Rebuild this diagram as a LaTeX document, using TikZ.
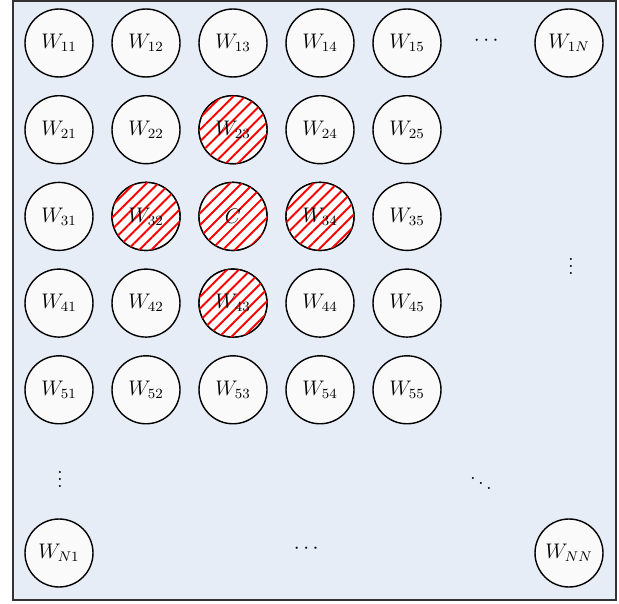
\documentclass[tikz,border=0pt]{standalone}
\usepackage{amsmath}
\usepackage{tikz}
\usepackage{xcolor}
\usetikzlibrary{patterns.meta, calc}
\definecolor{cBack}{RGB}{230,237,246}
\definecolor{cCell}{RGB}{250,250,250}
\tikzset{
	cell/.style    ={circle, draw=black, line width=0.8pt, fill=cCell, minimum size=1.36cm, inner sep=0pt, font=\large},
	hatched/.style ={cell, fill=white, postaction={pattern={Lines[angle=45, distance=4.8pt, line width=1.1pt]}, pattern color=red}},
	dots/.style    ={font=\large, inner sep=0pt},
}

\begin{document}
\begin{tikzpicture}[x=0.02cm, y=-0.02cm]
	\useasboundingbox (0,0) rectangle (619,604);
	% background panel
	\filldraw[fill=cBack, draw=black!80, line width=0.8pt] (13,1) rectangle (616,600);
	% 5x5 block of weights
	\foreach \i in {1,...,5} {
		\foreach \j in {1,...,5} {
			\node[cell] (w-\i-\j) at ({59+87*(\j-1)}, {43+86.7*(\i-1)}) {$W_{\i\j}$};
		}
	}
	% neighbourhood of the centre cell
	\node[hatched] (w-2-3h) at (w-2-3) {$W_{23}$};
	\node[hatched] (w-3-2h) at (w-3-2) {$W_{32}$};
	\node[hatched] (w-3-3h) at (w-3-3) {$C$};
	\node[hatched] (w-3-4h) at (w-3-4) {$W_{34}$};
	\node[hatched] (w-4-3h) at (w-4-3) {$W_{43}$};
	% corner cells
	\node[cell] (w-1-N) at (569,43) {$W_{1N}$};
	\node[cell] (w-N-1) at (59,553) {$W_{N1}$};
	\node[cell] (w-N-N) at (569,553) {$W_{NN}$};
	% ellipses
	\node[dots] (dots-top) at (488,41) {$\cdots$};
	\node[dots] (dots-bot) at (308,549) {$\cdots$};
	\node[dots] (dots-left) at (60,474) {$\vdots$};
	\node[dots] (dots-right) at (571,261) {$\vdots$};
	\node[dots] (dots-diag) at (481,478) {$\ddots$};
\end{tikzpicture}
\end{document}
